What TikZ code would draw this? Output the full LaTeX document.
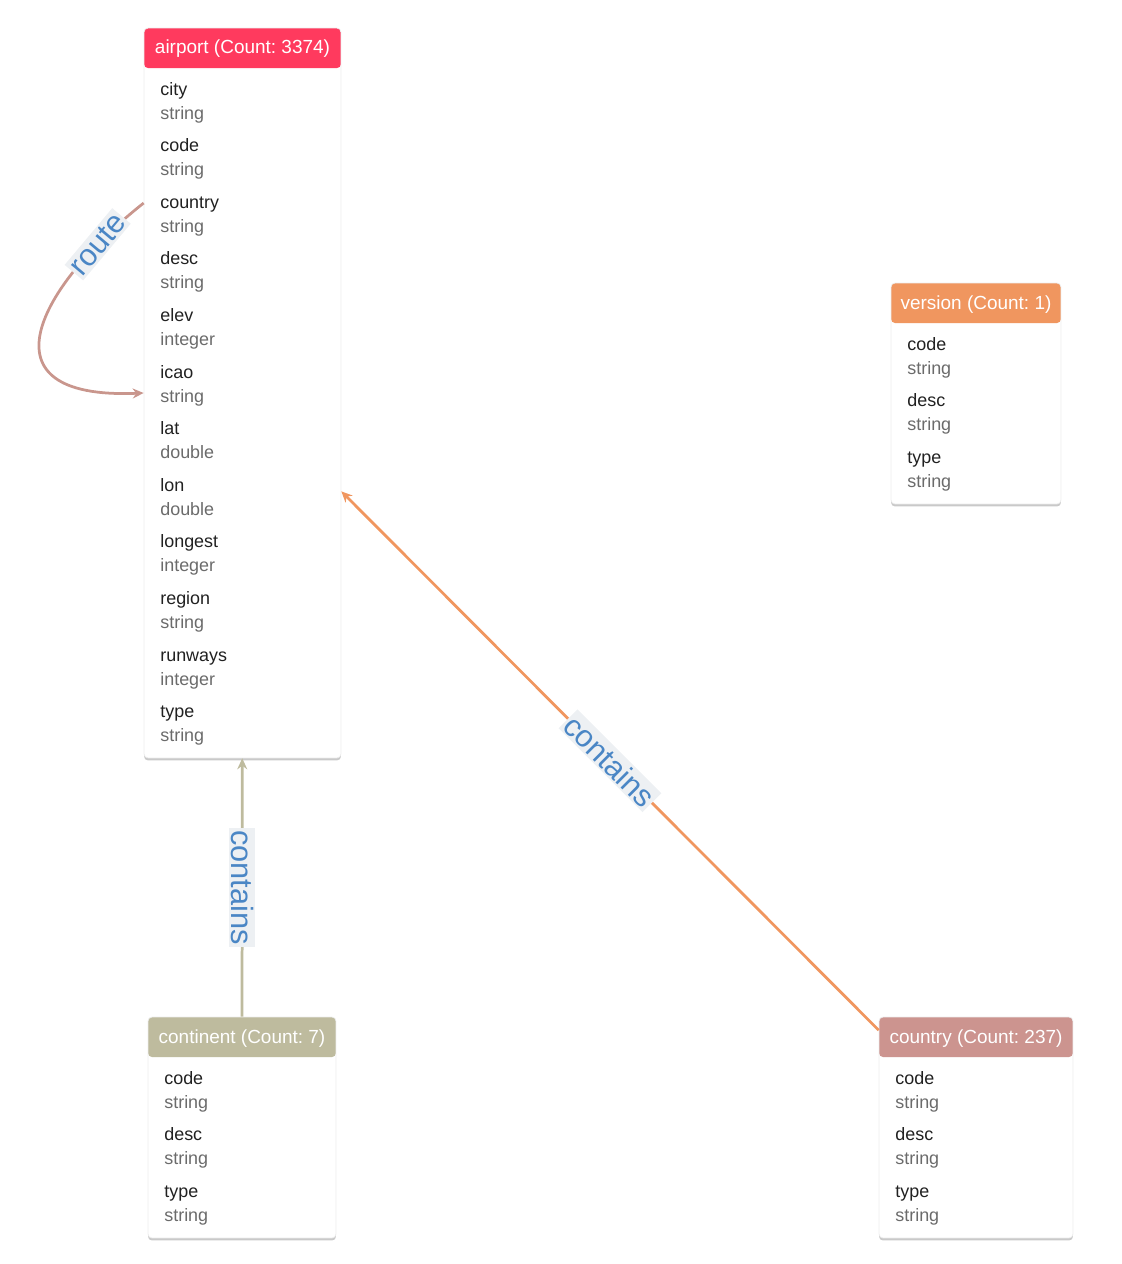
\documentclass[tikz,border=0pt]{standalone}
\usepackage{fontspec}
\setmainfont{Liberation Sans}
\usetikzlibrary{arrows.meta,positioning,shadows}
\frenchspacing

\definecolor{airportred}{HTML}{FF3A5E}
\definecolor{versionorange}{HTML}{F0965F}
\definecolor{continentgray}{HTML}{BEBB9E}
\definecolor{countryrose}{HTML}{CC948F}
\definecolor{routebrown}{HTML}{C9968D}
\definecolor{labelblue}{HTML}{4A86C5}
\definecolor{labelbg}{HTML}{EDF0F3}
\definecolor{namegray}{HTML}{212121}
\definecolor{typegray}{HTML}{6B6B6B}

\newcommand{\cardfont}{\fontsize{10.2pt}{12pt}\selectfont}
\newcommand{\titlefont}{\fontsize{10.8pt}{12pt}\selectfont}
\newcommand{\linkfont}{\fontsize{17.5pt}{20pt}\selectfont}

\tikzset{
  card/.style={fill=white, draw=black!7, line width=0.4pt, rounded corners=0.08cm, inner sep=0pt,
    drop shadow={shadow xshift=0pt, shadow yshift=-0.05cm, opacity=0.3, fill=black!70},
    path picture={\fill[#1] (path picture bounding box.north west) rectangle ([yshift=-0.8cm]path picture bounding box.north east);}},
  cardtitle/.style={anchor=base, text=white, font=\titlefont, inner sep=0pt},
  fieldname/.style={anchor=base west, text=namegray, font=\cardfont, inner sep=0pt},
  fieldtype/.style={anchor=base west, text=typegray, font=\cardfont, inner sep=0pt},
  linkarrow/.style={draw=#1, line width=0.055cm, -{Stealth[length=0.22cm, width=0.2cm]}},
  linklabel/.style={fill=labelbg, text=labelblue, font=\linkfont, inner sep=0.04cm}
}

\begin{document}
\begin{tikzpicture}[x=0.02cm, y=-0.02cm]
\useasboundingbox (0,0) rectangle (1122,1264);

% Drawing card airport
\node[card=airportred, minimum width=3.94cm, minimum height=14.6cm] (airport) at (242.5,393) {};
\node[cardtitle] (airport-title) at (242.5,54) {airport (Count: 3374)};
\foreach \fname/\ftype [count=\i from 0] in {city/string, code/string, country/string, desc/string,
    elev/integer, icao/string, lat/double, lon/double, longest/integer, region/string,
    runways/integer, type/string}{
  \node[fieldname] (airport-name-\i) at (160,95+56.6*\i) {\fname};
  \node[fieldtype] (airport-type-\i) at (160,119+56.6*\i) {\ftype};
}

% Drawing card version
\node[card=versionorange, minimum width=3.4cm, minimum height=4.42cm] (version) at (976,393.5) {};
\node[cardtitle] (version-title) at (976,309) {version (Count: 1)};
\foreach \fname/\ftype [count=\i from 0] in {code/string, desc/string, type/string}{
  \node[fieldname] (version-name-\i) at (907,350+56.5*\i) {\fname};
  \node[fieldtype] (version-type-\i) at (907,374+56.5*\i) {\ftype};
}

% Drawing card continent
\node[card=continentgray, minimum width=3.76cm, minimum height=4.42cm] (continent) at (242,1127.5) {};
\node[cardtitle] (continent-title) at (242,1043) {continent (Count: 7)};
\foreach \fname/\ftype [count=\i from 0] in {code/string, desc/string, type/string}{
  \node[fieldname] (continent-name-\i) at (164,1084+56.5*\i) {\fname};
  \node[fieldtype] (continent-type-\i) at (164,1108+56.5*\i) {\ftype};
}

% Drawing card country
\node[card=countryrose, minimum width=3.88cm, minimum height=4.42cm] (country) at (976,1127.5) {};
\node[cardtitle] (country-title) at (976,1043) {country (Count: 237)};
\foreach \fname/\ftype [count=\i from 0] in {code/string, desc/string, type/string}{
  \node[fieldname] (country-name-\i) at (895,1084+56.5*\i) {\fname};
  \node[fieldtype] (country-type-\i) at (895,1108+56.5*\i) {\ftype};
}

% Drawing link airport airport
\draw[linkarrow=routebrown] ([yshift=3.8cm]airport.west) .. controls (40,285) and (-25,400) .. (airport.west)
  node[linklabel, pos=0.16, rotate=50] (route-label) {route};

% Drawing link continent airport
\draw[linkarrow=continentgray] (continent) -- (airport)
  node[linklabel, midway, rotate=-90] (continent-label) {contains};

% Drawing link country airport
\draw[linkarrow=versionorange] (country) -- (airport)
  node[linklabel, midway, rotate=-45] (country-label) {contains};
\end{tikzpicture}
\end{document}
